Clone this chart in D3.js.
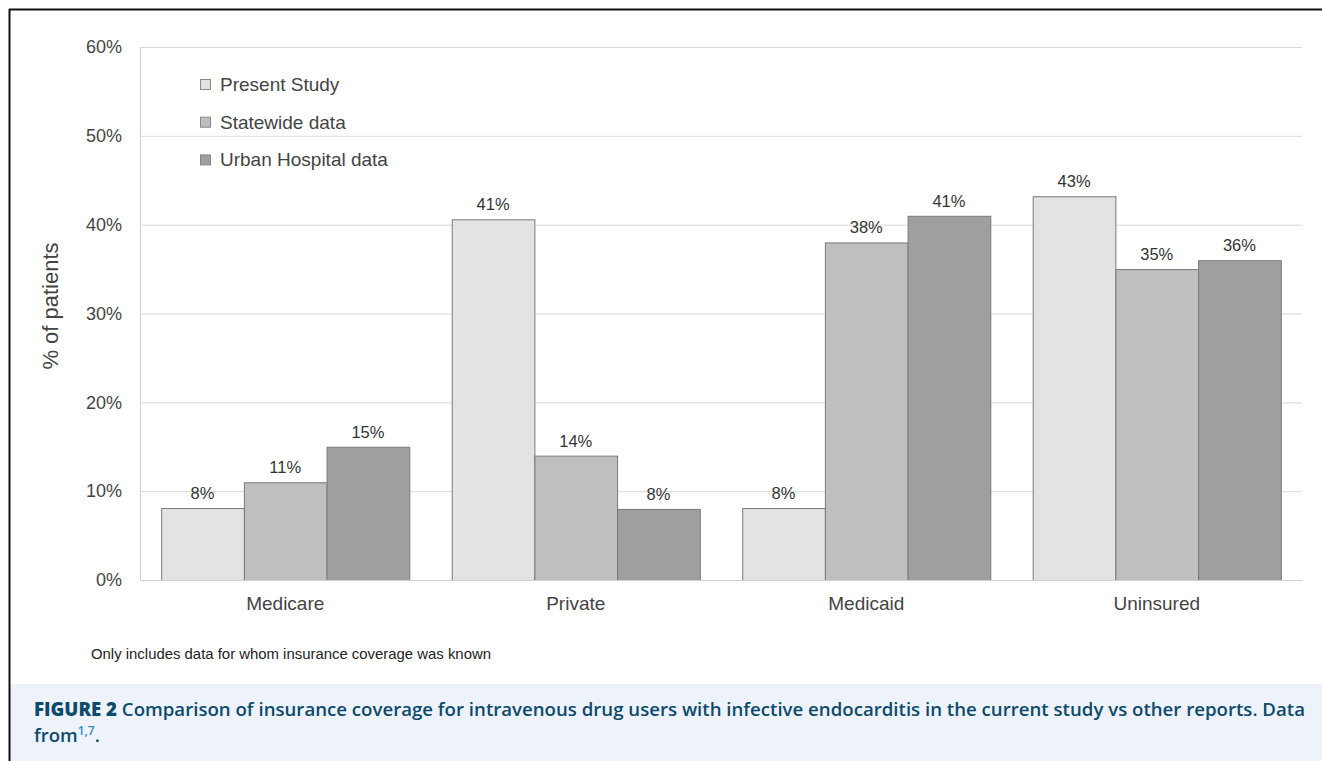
<!DOCTYPE html>
<html><head><meta charset="utf-8">
<script src="https://cdn.jsdelivr.net/npm/d3@7"></script>
<style>body{margin:0;background:#fff}svg{display:block}</style>
</head><body>
<svg id="c" width="1322" height="761"></svg>
<script>
const categories = ["Medicare", "Private", "Medicaid", "Uninsured"];
const seriesNames = ["Present Study", "Statewide data", "Urban Hospital data"];
const presentStudy = [8.1, 40.6, 8.1, 43.2];
const statewide = [11, 14, 38, 35];
const urbanHospital = [15, 8, 41, 36];
const yTicks = [0, 10, 20, 30, 40, 50, 60];
const colors = ["#e3e3e3", "#bfbfbf", "#9f9f9f"];
const series = [presentStudy, statewide, urbanHospital];

const svg = d3.select("#c");
const font = "'Liberation Sans', Arial, sans-serif";
const L = 140, R = 1302, T = 47, B = 580;

svg.append("rect").attr("x", 10).attr("y", 684).attr("width", 1312).attr("height", 77).attr("fill", "#eef3fb");
svg.append("line").attr("x1", 9).attr("x2", 1322).attr("y1", 9.5).attr("y2", 9.5).attr("stroke", "#111").attr("stroke-width", 2);
svg.append("line").attr("x1", 9.5).attr("x2", 9.5).attr("y1", 9).attr("y2", 761).attr("stroke", "#111").attr("stroke-width", 2);

const y = d3.scaleLinear().domain([0, 60]).range([B, T]);
const x0 = d3.scaleBand().domain(categories).range([L, R]).paddingInner(0.146).paddingOuter(0.073);
const x1 = d3.scaleBand().domain(seriesNames).range([0, x0.bandwidth()]);

svg.append("g").selectAll("line").data(yTicks.filter(d => d > 0)).join("line")
  .attr("x1", L).attr("x2", R).attr("y1", d => y(d) + 0.5).attr("y2", d => y(d) + 0.5)
  .attr("stroke", "#d9d9d9").attr("stroke-width", 1);

const yAxis = svg.append("g").attr("transform", `translate(${L},0)`)
  .call(d3.axisLeft(y).tickValues(yTicks).tickFormat(d => d + "%").tickSize(0).tickPadding(18));
yAxis.select(".domain").attr("stroke", "#d0d0d0");
yAxis.selectAll("text").attr("font-family", font).attr("font-size", 18).attr("fill", "#444");

const groups = svg.append("g").selectAll("g").data(categories).join("g")
  .attr("transform", d => `translate(${x0(d)},0)`);
groups.selectAll("rect").data((c, i) => series.map((s, k) => ({name: seriesNames[k], v: s[i], k})))
  .join("rect")
  .attr("x", d => x1(d.name) + 0.5).attr("y", d => y(d.v) + 0.5)
  .attr("width", x1.bandwidth()).attr("height", d => B - y(d.v))
  .attr("fill", d => colors[d.k]).attr("stroke", "#7a7a7a").attr("stroke-width", 1);
groups.selectAll("text").data((c, i) => series.map((s, k) => ({name: seriesNames[k], v: s[i], k})))
  .join("text")
  .attr("x", d => x1(d.name) + x1.bandwidth() / 2).attr("y", d => y(d.v) - 9)
  .attr("text-anchor", "middle").attr("font-family", font).attr("font-size", 16.5).attr("fill", "#333")
  .text(d => Math.round(d.v) + "%");

const xAxis = svg.append("g").attr("transform", `translate(0,${B})`)
  .call(d3.axisBottom(x0).tickSize(0).tickPadding(16.5));
xAxis.select(".domain").attr("stroke", "#d0d0d0");
xAxis.selectAll("text").attr("font-family", font).attr("font-size", 19).attr("fill", "#444");

svg.append("text").attr("transform", "translate(58,306) rotate(-90)")
  .attr("text-anchor", "middle").attr("font-family", font).attr("font-size", 22).attr("fill", "#444")
  .text("% of patients");

const lg = svg.append("g").selectAll("g").data(seriesNames).join("g")
  .attr("transform", (d, i) => `translate(200,${84.5 + i * 37.7})`);
lg.append("rect").attr("x", 0.5).attr("y", -5).attr("width", 10).attr("height", 10)
  .attr("fill", (d, i) => colors[i]).attr("stroke", "#888");
lg.append("text").attr("x", 20).attr("y", 6.5).attr("font-family", font).attr("font-size", 19).attr("fill", "#444").text(d => d);

svg.append("text").attr("x", 91).attr("y", 659).attr("font-family", "'Liberation Sans Narrow', " + font)
  .attr("font-size", 15).attr("fill", "#222").attr("textLength", 400).attr("lengthAdjust", "spacingAndGlyphs")
  .text("Only includes data for whom insurance coverage was known");

const capFont = "'Open Sans', 'Noto Sans', sans-serif";
const c1 = svg.append("text").attr("x", 34).attr("y", 716).attr("font-family", capFont).attr("font-size", 18.5)
  .attr("fill", "#0d4a6b").attr("textLength", 1271).attr("lengthAdjust", "spacingAndGlyphs");
c1.append("tspan").attr("font-weight", 800).text("FIGURE 2");
c1.append("tspan").attr("font-weight", 600).text("  Comparison of insurance coverage for intravenous drug users with infective endocarditis in the current study vs other reports. Data");
const c2 = svg.append("text").attr("x", 34).attr("y", 742).attr("font-family", capFont).attr("font-size", 18.5)
  .attr("fill", "#0d4a6b").attr("font-weight", 600);
c2.append("tspan").text("from");
c2.append("tspan").attr("dy", -7).attr("font-size", 12).attr("fill", "#2a8fc4").text("1,7");
c2.append("tspan").attr("dy", 7).text(".");
</script>
</body></html>
